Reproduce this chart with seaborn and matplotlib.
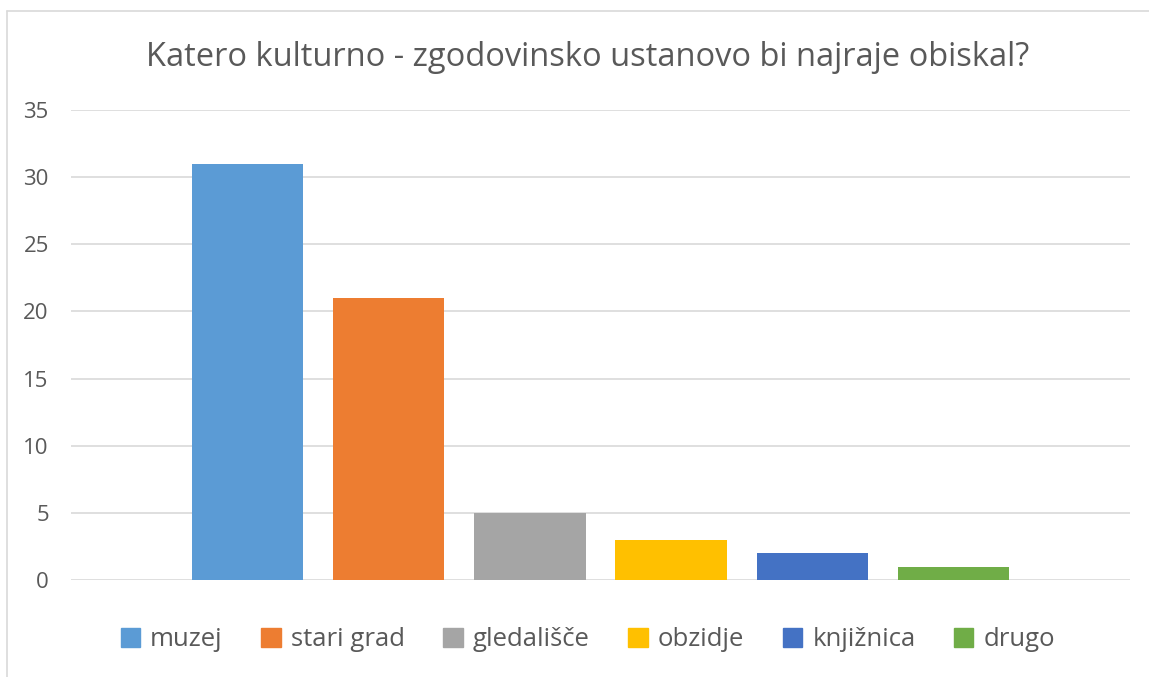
import matplotlib
matplotlib.use("Agg")
import matplotlib.pyplot as plt
import seaborn as sns
import pandas as pd
from matplotlib.lines import Line2D

# data
title = "Katero kulturno - zgodovinsko ustanovo bi najraje obiskal?"
categories = ["muzej", "stari grad", "gledališče", "obzidje", "knjižnica", "drugo"]
values = [31, 21, 5, 3, 2, 1]
colors = ["#5B9BD5", "#ED7D31", "#A5A5A5", "#FFC000", "#4472C4", "#70AD47"]
yticks = [0, 5, 10, 15, 20, 25, 30, 35]

sns.set_theme(style="white")
plt.rcParams["font.family"] = ["Open Sans", "DejaVu Sans"]
text_col = "#595959"

df = pd.DataFrame({"group": [""] * len(categories), "ustanova": categories, "n": values})

fig = plt.figure(figsize=(11.49, 6.77), dpi=100)
ax = fig.add_axes([71 / 1149, 1 - 580 / 677, (1130 - 71) / 1149, (580 - 110) / 677])

sns.barplot(data=df, x="group", y="n", hue="ustanova", hue_order=categories,
            palette=colors, width=0.8, gap=0.21, saturation=1, legend=False,
            ax=ax)
for p in ax.patches:
    p.set_edgecolor("none")

ax.set_xlim(-0.5, 0.5)
ax.set_ylim(0, 35)
ax.set_yticks(yticks)
ax.set_yticklabels([str(t) for t in yticks], fontsize=16, color=text_col)
ax.set_xticks([])
ax.set_xlabel("")
ax.set_ylabel("")
ax.grid(axis="y", color="#D9D9D9", linewidth=1.2)
ax.set_axisbelow(True)
for s in ax.spines.values():
    s.set_visible(False)
ax.tick_params(axis="y", length=0, pad=16)

fig.text(588 / 1149, 1 - 57 / 677, title, ha="center", va="center",
         fontsize=23.5, color=text_col)

handles = [plt.Rectangle((0, 0), 1, 1, color=c) for c in colors]
fig.legend(handles, categories, loc="center", bbox_to_anchor=(588 / 1149, 1 - 640 / 677),
           ncol=6, frameon=False, fontsize=18.5, labelcolor=text_col,
           handlelength=0.75, handleheight=0.75, handletextpad=0.4, columnspacing=1.5)

# light chart frame (left and top edges only visible)
fig.add_artist(Line2D([7 / 1149, 7 / 1149], [0, 1 - 11 / 677], transform=fig.transFigure,
                      color="#D9D9D9", linewidth=1.2))
fig.add_artist(Line2D([7 / 1149, 1], [1 - 11 / 677, 1 - 11 / 677], transform=fig.transFigure,
                      color="#D9D9D9", linewidth=1.2))

fig.savefig("out.png", dpi=100)
